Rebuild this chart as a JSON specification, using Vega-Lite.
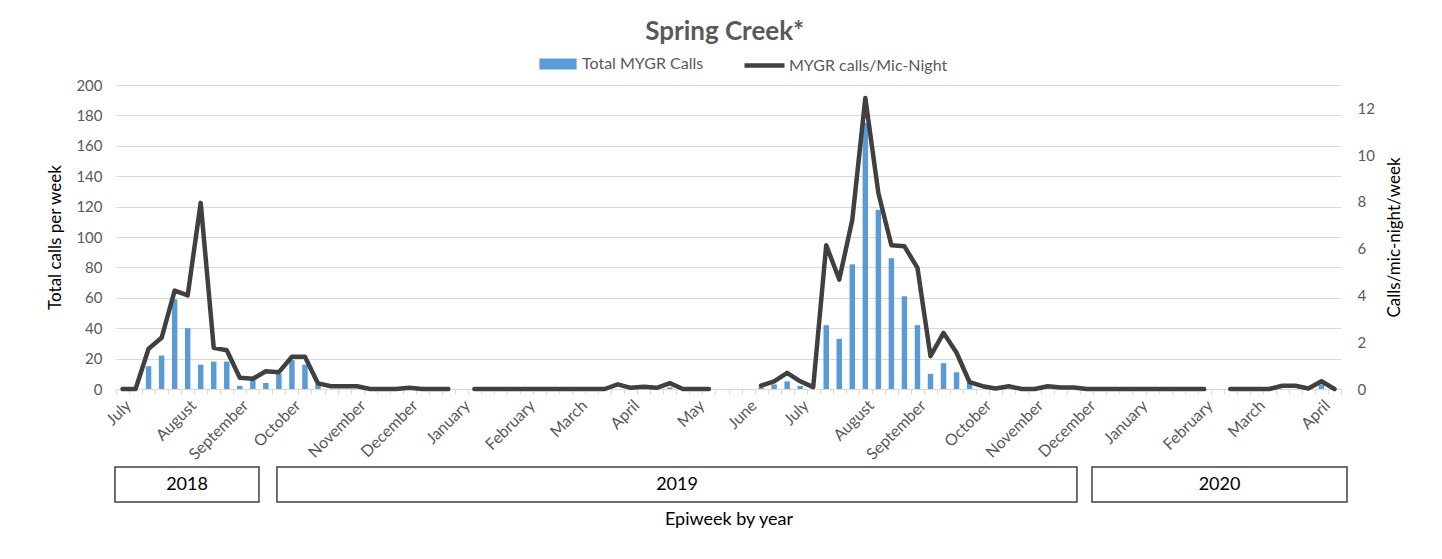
{
  "$schema": "https://vega.github.io/schema/vega-lite/v6.json",
  "background": "white",
  "padding": {"left": 46, "top": 19, "right": 30, "bottom": 10},
  "title": {"text": "Spring Creek*", "fontSize": 26, "fontWeight": "bold", "color": "#595959", "anchor": "middle", "offset": -2},
  "config": {
    "font": "Lato",
    "view": {"stroke": null},
    "legend": {"labelFontSize": 16, "labelColor": "#595959", "labelFont": "Lato"}
  },
  "spacing": 3,
  "vconcat": [
    {
      "width": 1225,
      "height": 304,
      "data": {"values": [
        {"i": 0, "calls": 0, "rate": 0}, {"i": 1, "calls": 0, "rate": 0}, {"i": 2, "calls": 15, "rate": 1.72}, {"i": 3, "calls": 22, "rate": 2.19},
        {"i": 4, "calls": 59, "rate": 4.21}, {"i": 5, "calls": 40, "rate": 4.0}, {"i": 6, "calls": 16, "rate": 7.96}, {"i": 7, "calls": 18, "rate": 1.76},
        {"i": 8, "calls": 18, "rate": 1.66}, {"i": 9, "calls": 2, "rate": 0.48}, {"i": 10, "calls": 6, "rate": 0.44}, {"i": 11, "calls": 4, "rate": 0.76},
        {"i": 12, "calls": 10, "rate": 0.72}, {"i": 13, "calls": 19, "rate": 1.38}, {"i": 14, "calls": 16, "rate": 1.38}, {"i": 15, "calls": 3, "rate": 0.24},
        {"i": 16, "calls": 0, "rate": 0.12}, {"i": 17, "calls": 0, "rate": 0.12}, {"i": 18, "calls": 0, "rate": 0.12}, {"i": 19, "calls": 0, "rate": 0},
        {"i": 20, "calls": 0, "rate": 0}, {"i": 21, "calls": 0, "rate": 0}, {"i": 22, "calls": 0, "rate": 0.05}, {"i": 23, "calls": 0, "rate": 0},
        {"i": 24, "calls": 0, "rate": 0}, {"i": 25, "calls": 0, "rate": 0}, {"i": 26, "calls": null, "rate": null}, {"i": 27, "calls": 0, "rate": 0},
        {"i": 28, "calls": 0, "rate": 0}, {"i": 29, "calls": 0, "rate": 0}, {"i": 30, "calls": 0, "rate": 0}, {"i": 31, "calls": 0, "rate": 0},
        {"i": 32, "calls": 0, "rate": 0}, {"i": 33, "calls": 0, "rate": 0}, {"i": 34, "calls": 0, "rate": 0}, {"i": 35, "calls": 0, "rate": 0},
        {"i": 36, "calls": 0, "rate": 0}, {"i": 37, "calls": 0, "rate": 0}, {"i": 38, "calls": 0, "rate": 0.2}, {"i": 39, "calls": 0, "rate": 0.05},
        {"i": 40, "calls": 0, "rate": 0.1}, {"i": 41, "calls": 0, "rate": 0.05}, {"i": 42, "calls": 1, "rate": 0.25}, {"i": 43, "calls": 0, "rate": 0},
        {"i": 44, "calls": 0, "rate": 0}, {"i": 45, "calls": 0, "rate": 0}, {"i": 46, "calls": null, "rate": null}, {"i": 47, "calls": null, "rate": null},
        {"i": 48, "calls": null, "rate": null}, {"i": 49, "calls": 1, "rate": 0.14}, {"i": 50, "calls": 3, "rate": 0.33}, {"i": 51, "calls": 5, "rate": 0.69},
        {"i": 52, "calls": 2, "rate": 0.33}, {"i": 53, "calls": 0, "rate": 0.08}, {"i": 54, "calls": 42, "rate": 6.15}, {"i": 55, "calls": 33, "rate": 4.68},
        {"i": 56, "calls": 82, "rate": 7.24}, {"i": 57, "calls": 175, "rate": 12.44}, {"i": 58, "calls": 118, "rate": 8.38}, {"i": 59, "calls": 86, "rate": 6.15},
        {"i": 60, "calls": 61, "rate": 6.1}, {"i": 61, "calls": 42, "rate": 5.18}, {"i": 62, "calls": 10, "rate": 1.4}, {"i": 63, "calls": 17, "rate": 2.4},
        {"i": 64, "calls": 11, "rate": 1.55}, {"i": 65, "calls": 4, "rate": 0.29}, {"i": 66, "calls": 0, "rate": 0.12}, {"i": 67, "calls": 0, "rate": 0.02},
        {"i": 68, "calls": 0, "rate": 0.12}, {"i": 69, "calls": 0, "rate": 0}, {"i": 70, "calls": 0, "rate": 0}, {"i": 71, "calls": 0, "rate": 0.12},
        {"i": 72, "calls": 0, "rate": 0.06}, {"i": 73, "calls": 0, "rate": 0.06}, {"i": 74, "calls": 0, "rate": 0}, {"i": 75, "calls": 0, "rate": 0},
        {"i": 76, "calls": 0, "rate": 0}, {"i": 77, "calls": 0, "rate": 0}, {"i": 78, "calls": 0, "rate": 0}, {"i": 79, "calls": 0, "rate": 0},
        {"i": 80, "calls": 0, "rate": 0}, {"i": 81, "calls": 0, "rate": 0}, {"i": 82, "calls": 0, "rate": 0}, {"i": 83, "calls": 0, "rate": 0},
        {"i": 84, "calls": null, "rate": null}, {"i": 85, "calls": 0, "rate": 0}, {"i": 86, "calls": 0, "rate": 0}, {"i": 87, "calls": 0, "rate": 0},
        {"i": 88, "calls": 0, "rate": 0}, {"i": 89, "calls": 0, "rate": 0.14}, {"i": 90, "calls": 0, "rate": 0.14}, {"i": 91, "calls": 0, "rate": 0.02},
        {"i": 92, "calls": 3, "rate": 0.33}, {"i": 93, "calls": 0, "rate": 0}
      ]},
      "layer": [
        {
          "mark": {"type": "bar", "width": {"band": 0.42}},
          "encoding": {
            "x": {
              "field": "i", "type": "ordinal",
              "scale": {"domain": [0,1,2,3,4,5,6,7,8,9,10,11,12,13,14,15,16,17,18,19,20,21,22,23,24,25,26,27,28,29,30,31,32,33,34,35,36,37,38,39,40,41,42,43,44,45,46,47,48,49,50,51,52,53,54,55,56,57,58,59,60,61,62,63,64,65,66,67,68,69,70,71,72,73,74,75,76,77,78,79,80,81,82,83,84,85,86,87,88,89,90,91,92,93], "paddingInner": 0, "paddingOuter": 0},
              "axis": {
                "title": null,
                "labelExpr": "['July','','','','','August','','','','September','','','','October','','','','','November','','','','December','','','','January','','','','','February','','','','March','','','','April','','','','','May','','','','June','','','','July','','','','','August','','','','September','','','','','October','','','','November','','','','December','','','','January','','','','','February','','','','March','','','','','April',''][datum.value]",
                "labelAngle": -45, "labelFontSize": 16, "labelColor": "#595959", "labelOverlap": false, "labelBound": false, "labelFlush": false, "labelPadding": 3,
                "tickBand": "extent", "tickColor": "#D9D9D9", "tickSize": 5, "domainColor": "#D9D9D9", "grid": false
              }
            },
            "y": {
              "field": "calls", "type": "quantitative",
              "scale": {"domain": [0, 200], "nice": false},
              "axis": {
                "title": "Total calls per week", "titleFontSize": 17, "titleFontWeight": "normal", "titleColor": "black", "titlePadding": 11,
                "values": [0,20,40,60,80,100,120,140,160,180,200], "labelFontSize": 15, "labelColor": "#595959", "labelPadding": 14,
                "grid": true, "gridColor": "#D9D9D9", "domain": false, "ticks": false, "tickSize": 0
              }
            },
            "fill": {
              "datum": "Total MYGR Calls",
              "scale": {"range": ["#5B9BD5"]},
              "legend": {"title": null, "orient": "none", "legendX": 421, "legendY": -42, "symbolType": "M-0.93,-0.27H0.93V0.27H-0.93Z", "symbolSize": 1600, "labelOffset": 3}
            }
          }
        },
        {
          "mark": {"type": "line", "strokeWidth": 4.5, "strokeJoin": "round", "strokeCap": "round", "invalid": "break-paths-show-domains"},
          "encoding": {
            "x": {"field": "i", "type": "ordinal"},
            "y": {
              "field": "rate", "type": "quantitative",
              "scale": {"domain": [0, 13], "nice": false},
              "axis": {
                "orient": "right", "title": "Calls/mic-night/week", "titleAngle": 270, "titleBaseline": "top", "titleFontSize": 17, "titleFontWeight": "normal", "titleColor": "black", "titlePadding": 12,
                "values": [0,2,4,6,8,10,12], "labelFontSize": 15, "labelColor": "#595959", "labelPadding": 16,
                "grid": false, "domain": false, "ticks": false, "tickSize": 0
              }
            },
            "stroke": {
              "datum": "MYGR calls/Mic-Night",
              "scale": {"range": ["#404040"]},
              "legend": {"title": null, "orient": "none", "legendX": 626, "legendY": -42, "symbolType": "stroke", "symbolSize": 1600, "symbolStrokeWidth": 4.5, "labelOffset": 2}
            }
          }
        }
      ],
      "resolve": {"scale": {"y": "independent"}}
    },
    {
      "width": 1225,
      "height": 35,
      "data": {"values": [
        {"year": "2018", "start": -0.58, "end": 10.47, "mid": 4.95},
        {"year": "2019", "start": 11.85, "end": 73.24, "mid": 42.55},
        {"year": "2020", "start": 74.39, "end": 93.96, "mid": 84.18}
      ]},
      "layer": [
        {
          "mark": {"type": "rect", "fill": "white", "stroke": "#404040", "strokeWidth": 1.5},
          "encoding": {
            "x": {
              "field": "start", "type": "quantitative",
              "scale": {"domain": [-0.5, 93.5], "nice": false, "zero": false},
              "axis": {"title": "Epiweek by year", "titleFontSize": 18, "titleFontWeight": "normal", "titleColor": "black", "titlePadding": 8, "labels": false, "ticks": false, "domain": false, "grid": false}
            },
            "x2": {"field": "end"}
          }
        },
        {
          "mark": {"type": "text", "fontSize": 18, "color": "black"},
          "encoding": {
            "x": {"field": "mid", "type": "quantitative"},
            "text": {"field": "year"}
          }
        }
      ]
    }
  ]
}
